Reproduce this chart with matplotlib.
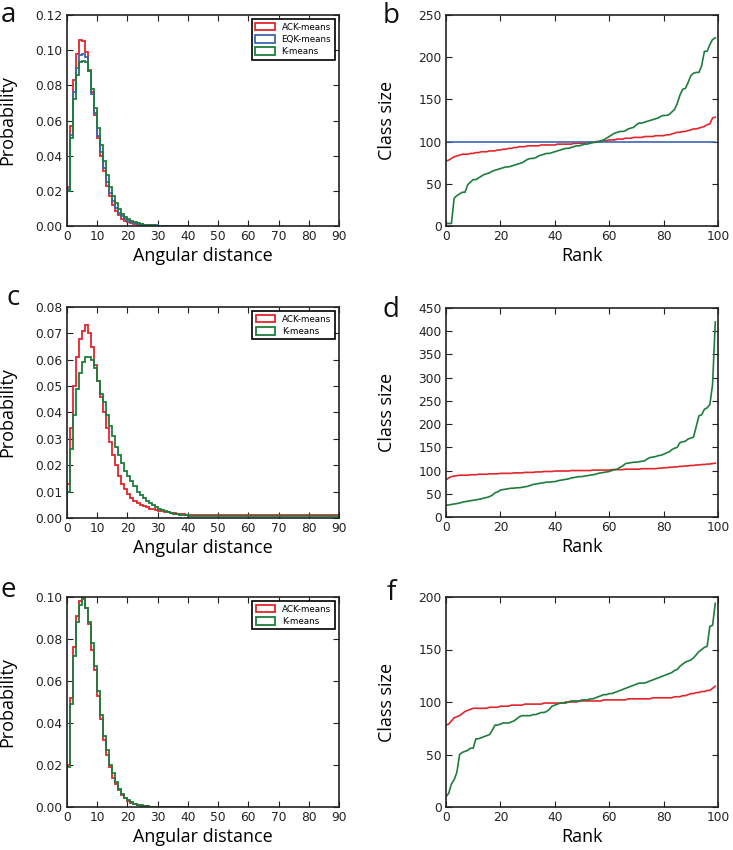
import numpy as np
import matplotlib
matplotlib.use('Agg')
import matplotlib.pyplot as plt

# colours
RED = '#e3262c'
GREEN = '#1e7d3c'
BLUE = '#3d66b0'

# histogram bins (1 degree wide), angular distance 0..90
edges = list(range(0, 91))

# panel a: probability per bin
ack_a = [0.022, 0.057, 0.083, 0.098, 0.106, 0.105, 0.099, 0.089, 0.076, 0.063,
         0.050, 0.040, 0.031, 0.023, 0.017, 0.012, 0.0085, 0.006, 0.0042, 0.003,
         0.0021, 0.0015, 0.0010, 0.0007, 0.0005, 0.0004, 0.0003, 0.0002, 0.0002, 0.0001,
         0.0001, 0.0001, 0.0001, 0.0, 0.0, 0.0, 0.0, 0.0, 0.0, 0.0]
eqk_a = [0.021, 0.052, 0.076, 0.090, 0.097, 0.098, 0.096, 0.088, 0.075, 0.064,
         0.051, 0.042, 0.033, 0.025, 0.019, 0.014, 0.010, 0.0075, 0.0055, 0.004,
         0.003, 0.0022, 0.0016, 0.0012, 0.0009, 0.0007, 0.0005, 0.0004, 0.0003, 0.0003,
         0.0002, 0.0002, 0.0002, 0.0001, 0.0001, 0.0001, 0.0001, 0.0001, 0.0001, 0.0001]
km_a = [0.020, 0.050, 0.072, 0.086, 0.093, 0.094, 0.093, 0.088, 0.078, 0.067,
        0.056, 0.046, 0.037, 0.029, 0.022, 0.017, 0.013, 0.0095, 0.007, 0.005,
        0.0037, 0.0027, 0.002, 0.0015, 0.0011, 0.0008, 0.0006, 0.0004, 0.0003, 0.0002,
        0.0002, 0.0001, 0.0001, 0.0001, 0.0, 0.0, 0.0, 0.0, 0.0, 0.0]

# panel c
ack_c = [0.013, 0.034, 0.050, 0.061, 0.068, 0.071, 0.073, 0.070, 0.065, 0.058,
         0.052, 0.046, 0.040, 0.034, 0.029, 0.024, 0.020, 0.016, 0.013, 0.011,
         0.009, 0.0075, 0.0064, 0.0056, 0.0049, 0.0044, 0.004, 0.0036, 0.0033, 0.003,
         0.0027, 0.0025, 0.0023, 0.0021, 0.0019, 0.0018, 0.0016, 0.0015, 0.0014, 0.0013,
         0.0013, 0.0012, 0.0012, 0.0012, 0.0012, 0.0012, 0.0012, 0.0012, 0.0012, 0.0012,
         0.0012, 0.0012, 0.0012, 0.0012, 0.0012, 0.0012, 0.0012, 0.0012, 0.0012, 0.0012,
         0.0012, 0.0012, 0.0012, 0.0012, 0.0012, 0.0012, 0.0012, 0.0013, 0.0013, 0.0013,
         0.0013, 0.0013, 0.0013, 0.0013, 0.0013, 0.0013, 0.0013, 0.0013, 0.0013, 0.0013,
         0.0013, 0.0013, 0.0013, 0.0013, 0.0013, 0.0013, 0.0013, 0.0013, 0.0013, 0.0013]
km_c = [0.010, 0.026, 0.039, 0.049, 0.055, 0.059, 0.061, 0.061, 0.060, 0.057,
        0.052, 0.047, 0.044, 0.039, 0.035, 0.031, 0.027, 0.024, 0.021, 0.018,
        0.016, 0.014, 0.012, 0.010, 0.0088, 0.0076, 0.0066, 0.0057, 0.0049, 0.0042,
        0.0036, 0.0031, 0.0027, 0.0023, 0.002, 0.0017, 0.0015, 0.0013, 0.0011, 0.001,
        0.0009, 0.0008, 0.0008, 0.0007, 0.0007, 0.0007, 0.0007, 0.0007, 0.0007, 0.0007,
        0.0007, 0.0007, 0.0007, 0.0007, 0.0007, 0.0007, 0.0007, 0.0007, 0.0007, 0.0007,
        0.0007, 0.0007, 0.0007, 0.0007, 0.0007, 0.0007, 0.0007, 0.0007, 0.0007, 0.0007,
        0.0007, 0.0007, 0.0007, 0.0007, 0.0007, 0.0007, 0.0007, 0.0007, 0.0007, 0.0007,
        0.0007, 0.0007, 0.0007, 0.0007, 0.0007, 0.0007, 0.0007, 0.0007, 0.0007, 0.0007]

# panel e
ack_e = [0.020, 0.052, 0.076, 0.091, 0.098, 0.100, 0.095, 0.087, 0.075, 0.065,
         0.053, 0.042, 0.032, 0.025, 0.019, 0.014, 0.011, 0.008, 0.0058, 0.0042,
         0.003, 0.0021, 0.0015, 0.001, 0.0007, 0.0005, 0.0003, 0.0002, 0.0001, 0.0001,
         0.0, 0.0, 0.0, 0.0, 0.0, 0.0, 0.0, 0.0, 0.0, 0.0]
km_e = [0.019, 0.049, 0.072, 0.088, 0.096, 0.099, 0.095, 0.088, 0.078, 0.067,
        0.055, 0.044, 0.034, 0.027, 0.020, 0.016, 0.012, 0.0085, 0.006, 0.0045,
        0.0032, 0.0023, 0.0016, 0.0011, 0.0008, 0.0005, 0.0003, 0.0002, 0.0001, 0.0001,
        0.0, 0.0, 0.0, 0.0, 0.0, 0.0, 0.0, 0.0, 0.0, 0.0]

# rank plots, ranks 0..99
rank = list(range(100))

km_b = [3, 3, 3, 33, 36, 38, 40, 40, 49, 52,
        55, 55, 57, 59, 61, 62, 63, 65, 66, 67,
        68, 69, 70, 70, 71, 72, 73, 74, 75, 77,
        79, 80, 80, 81, 83, 84, 85, 86, 86, 87,
        88, 89, 90, 91, 92, 92, 93, 94, 95, 95,
        96, 97, 97, 98, 99, 99, 100, 101, 102, 104,
        106, 108, 110, 111, 112, 112, 113, 115, 116, 117,
        120, 122, 122, 123, 124, 125, 126, 127, 128, 130,
        131, 131, 132, 135, 138, 145, 155, 162, 163, 170,
        178, 181, 182, 182, 190, 207, 207, 215, 221, 223]
ack_b = [77, 78, 80, 82, 83, 84, 85, 85, 85, 86,
         86, 87, 87, 88, 88, 88, 89, 89, 89, 90,
         90, 91, 91, 92, 92, 93, 93, 94, 94, 94,
         95, 95, 95, 95, 95, 96, 96, 96, 96, 96,
         96, 97, 97, 97, 97, 97, 97, 98, 98, 98,
         98, 98, 99, 99, 99, 100, 100, 100, 101, 101,
         102, 102, 102, 103, 103, 103, 104, 104, 104, 105,
         105, 105, 105, 106, 106, 106, 106, 107, 107, 107,
         107, 108, 108, 109, 110, 111, 111, 112, 112, 113,
         114, 115, 115, 116, 117, 118, 120, 121, 128, 129]
eqk_b = [100] * 100

km_d = [25, 26, 27, 28, 29, 30, 32, 33, 34, 35,
        36, 37, 38, 39, 41, 42, 44, 47, 52, 54,
        58, 59, 60, 61, 62, 62, 63, 63, 64, 65,
        66, 68, 70, 71, 72, 73, 74, 75, 75, 76,
        76, 78, 79, 80, 81, 82, 84, 85, 86, 87,
        87, 88, 89, 90, 91, 92, 94, 95, 96, 97,
        98, 100, 102, 103, 107, 110, 115, 116, 117, 118,
        118, 119, 120, 121, 125, 128, 129, 130, 132, 133,
        135, 138, 140, 145, 148, 150, 160, 162, 163, 168,
        170, 172, 195, 218, 220, 232, 235, 242, 285, 420]
ack_d = [80, 84, 87, 88, 89, 90, 90, 90, 90, 91,
         91, 91, 92, 92, 92, 92, 93, 93, 93, 93,
         94, 94, 94, 94, 94, 95, 95, 95, 95, 96,
         96, 96, 96, 97, 97, 97, 98, 98, 98, 98,
         99, 99, 99, 99, 99, 99, 100, 100, 100, 100,
         100, 100, 100, 100, 101, 101, 101, 101, 101, 101,
         101, 102, 102, 102, 102, 102, 103, 103, 103, 103,
         103, 103, 104, 104, 104, 104, 104, 104, 105, 105,
         106, 106, 107, 107, 108, 108, 109, 109, 110, 110,
         111, 111, 112, 112, 113, 113, 114, 114, 115, 116]

km_f = [10, 13, 22, 26, 33, 50, 52, 53, 54, 56,
        56, 65, 65, 66, 67, 68, 69, 73, 78, 78,
        79, 80, 80, 80, 81, 82, 84, 86, 87, 87,
        87, 87, 88, 88, 89, 90, 90, 91, 93, 96,
        97, 98, 99, 99, 99, 100, 101, 101, 101, 101,
        102, 102, 102, 103, 103, 104, 105, 106, 107, 107,
        108, 108, 109, 110, 111, 112, 113, 114, 115, 116,
        117, 118, 118, 118, 119, 120, 121, 122, 123, 124,
        125, 126, 127, 128, 130, 131, 134, 136, 138, 139,
        140, 142, 145, 148, 150, 152, 153, 172, 173, 194]
ack_f = [78, 79, 82, 85, 86, 87, 89, 91, 92, 93,
         94, 94, 94, 94, 94, 94, 95, 95, 95, 95,
         96, 96, 96, 96, 97, 97, 97, 97, 97, 98,
         98, 98, 98, 98, 98, 98, 99, 99, 99, 99,
         99, 99, 99, 99, 100, 100, 100, 100, 100, 101,
         101, 101, 101, 101, 101, 101, 101, 101, 102, 102,
         102, 102, 102, 102, 102, 102, 102, 103, 103, 103,
         103, 103, 103, 103, 103, 103, 104, 104, 104, 104,
         104, 104, 104, 104, 105, 105, 105, 106, 106, 107,
         108, 108, 109, 109, 110, 110, 111, 111, 113, 115]

plt.rcParams['font.family'] = 'DejaVu Sans'
LABEL_FONT = 'Open Sans'

fig = plt.figure(figsize=(7.33, 8.5), dpi=100)

W, H = 733.0, 850.0


def make_axes(left, top, right, bottom):
    return fig.add_axes([left / W, 1 - bottom / H, (right - left) / W, (bottom - top) / H])


def style(ax):
    ax.tick_params(direction='in', top=True, right=True, length=4, width=0.8,
                   labelsize=8.8, pad=3, colors='#222222')
    for s in ax.spines.values():
        s.set_linewidth(1.2)
        s.set_color('#222222')


def hist_panel(ax, series, yticks, ylim):
    for vals, color, label in series:
        n = len(vals)
        ax.hist(edges[:n], bins=edges[:n + 1], weights=vals, histtype='step',
                color=color, linewidth=1.3, label=label)
    ax.set_xlim(0, 90)
    ax.set_ylim(0, ylim)
    ax.set_xticks(range(0, 91, 10))
    ax.set_yticks(yticks)
    style(ax)
    ax.set_xlabel('Angular distance', fontsize=13, family=LABEL_FONT, labelpad=3)
    ax.set_ylabel('Probability', fontsize=13, family=LABEL_FONT)
    ax.yaxis.set_label_coords(-0.185, 0.5)
    leg = ax.legend(loc='upper right', fontsize=6.3, fancybox=False, framealpha=1,
                    borderaxespad=0.5, handlelength=2.2, handleheight=0.9,
                    labelspacing=0.35, borderpad=0.4)
    leg.get_frame().set_edgecolor('black')
    leg.get_frame().set_linewidth(1.2)


def rank_panel(ax, series, yticks, ylim):
    for vals, color in series:
        ax.plot(rank, vals, color=color, linewidth=1.2)
    ax.set_xlim(0, 100)
    ax.set_ylim(0, ylim)
    ax.set_xticks(range(0, 101, 20))
    ax.set_yticks(yticks)
    style(ax)
    ax.set_xlabel('Rank', fontsize=13, family=LABEL_FONT, labelpad=3)
    ax.set_ylabel('Class size', fontsize=13, family=LABEL_FONT)
    ax.yaxis.set_label_coords(-0.185, 0.5)


# a
ax = make_axes(67, 15, 339, 226)
hist_panel(ax, [(ack_a, RED, 'ACK-means'), (eqk_a, BLUE, 'EQK-means'), (km_a, GREEN, 'K-means')],
           [0, 0.02, 0.04, 0.06, 0.08, 0.10, 0.12], 0.12)
ax.yaxis.set_major_formatter(matplotlib.ticker.FormatStrFormatter('%.2f'))

# b
ax = make_axes(446, 15, 718, 226)
rank_panel(ax, [(ack_b, RED), (eqk_b, BLUE), (km_b, GREEN)], range(0, 251, 50), 250)

# c
ax = make_axes(67, 307, 339, 518)
hist_panel(ax, [(ack_c, RED, 'ACK-means'), (km_c, GREEN, 'K-means')],
           [0, 0.01, 0.02, 0.03, 0.04, 0.05, 0.06, 0.07, 0.08], 0.08)
ax.yaxis.set_major_formatter(matplotlib.ticker.FormatStrFormatter('%.2f'))

# d
ax = make_axes(446, 308, 718, 517)
rank_panel(ax, [(ack_d, RED), (km_d, GREEN)], range(0, 451, 50), 450)

# e
ax = make_axes(67, 597, 339, 807)
hist_panel(ax, [(ack_e, RED, 'ACK-means'), (km_e, GREEN, 'K-means')],
           [0, 0.02, 0.04, 0.06, 0.08, 0.10], 0.10)
ax.yaxis.set_major_formatter(matplotlib.ticker.FormatStrFormatter('%.2f'))

# f
ax = make_axes(446, 597, 718, 807)
rank_panel(ax, [(ack_f, RED), (km_f, GREEN)], range(0, 201, 50), 200)

# panel letters
for letter, x, y in [('a', 1, 22), ('b', 383, 23), ('c', 7, 305),
                     ('d', 382, 317), ('e', 1, 597), ('f', 387, 600)]:
    fig.text(x / W, 1 - y / H, letter, fontsize=20, family=LABEL_FONT,
             va='baseline', ha='left', color='#111111')

fig.savefig('out.png', dpi=100)
